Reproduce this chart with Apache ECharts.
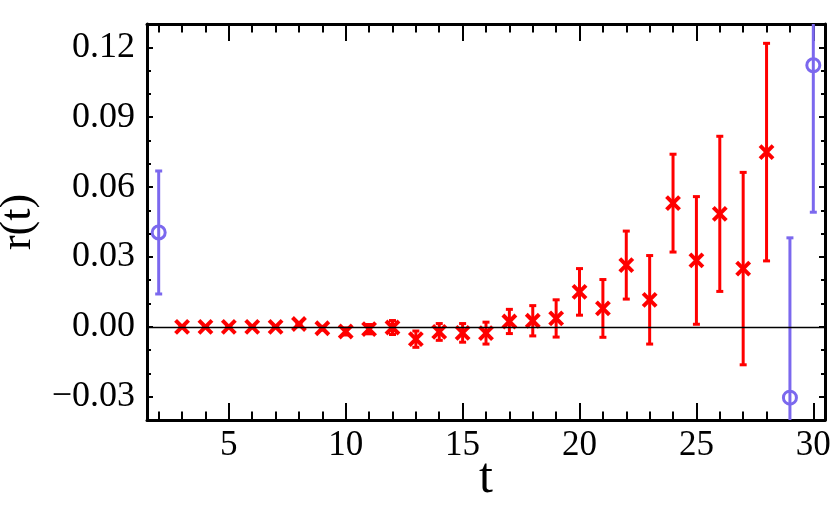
<!DOCTYPE html>
<html>
<head>
<meta charset="utf-8">
<script src="https://cdn.jsdelivr.net/npm/echarts@6/dist/echarts.min.js"></script>
<style>
  html, body { margin: 0; padding: 0; background: #fff; }
  #chart { width: 830px; height: 506px; }
</style>
</head>
<body>
<div id="chart"></div>
<script>
// red crosses: t, r(t), error
var tRed = [3, 4, 5, 6, 7, 8, 9, 10, 11, 12, 13, 14, 15, 16, 17, 18, 19, 20, 21, 22, 23, 24, 25, 26, 27, 28]
var rRed = [0.0, 0.0, 0.0, 0.0, 0.0, 0.0012, -0.0006, -0.002, -0.001, -0.0003, -0.0053, -0.0022, -0.0026, -0.0027,
  0.0023, 0.0026, 0.0036, 0.0150, 0.0079, 0.0265, 0.0116, 0.0531, 0.0285, 0.0485, 0.0250, 0.0750]
var eRed = [0.0004, 0.0004, 0.0004, 0.0004, 0.0004, 0.0005, 0.0008, 0.0015, 0.002, 0.003, 0.0035, 0.0036, 0.004, 0.0047,
  0.0052, 0.0065, 0.008, 0.010, 0.0124, 0.0146, 0.019, 0.021, 0.0274, 0.0333, 0.0413, 0.0467]
// blue circles
var tBlue = [2, 29, 30]
var rBlue = [0.0405, -0.0304, 0.1123]
var eBlue = [0.0264, 0.0686, 0.0631]

var xMajor = [5, 10, 15, 20, 25, 30]
var xMinor = [2, 3, 4, 6, 7, 8, 9, 11, 12, 13, 14, 16, 17, 18, 19, 21, 22, 23, 24, 26, 27, 28, 29]
var yMajor = [-0.03, 0, 0.03, 0.06, 0.09, 0.12]
var yMinor = [-0.04, -0.02, -0.01, 0.01, 0.02, 0.04, 0.05, 0.07, 0.08, 0.10, 0.11, 0.13]

var RED = '#ff0000'
var BLUE = '#7b68ee'
var FONT = '"Liberation Serif", "DejaVu Serif", serif'

function zip (a, b, c) {
  return a.map(function (v, i) { return [v, b[i], c[i]] })
}

// error bar with caps
function errorBar (color) {
  return function (params, api) {
    var x = api.value(0)
    var y = api.value(1)
    var e = api.value(2)
    var top = api.coord([x, y + e])
    var bot = api.coord([x, y - e])
    var st = { stroke: color, lineWidth: 3 }
    return {
      type: 'group',
      children: [
        { type: 'line', shape: { x1: top[0], y1: top[1], x2: bot[0], y2: bot[1] }, style: st },
        { type: 'line', shape: { x1: top[0] - 3.5, y1: top[1], x2: top[0] + 3.5, y2: top[1] }, style: st },
        { type: 'line', shape: { x1: bot[0] - 3.5, y1: bot[1], x2: bot[0] + 3.5, y2: bot[1] }, style: st }
      ]
    }
  }
}

// x shaped marker
function crossMark (params, api) {
  var p = api.coord([api.value(0), api.value(1)])
  var h = 6.5
  var st = { stroke: RED, lineWidth: 4 }
  return {
    type: 'group',
    children: [
      { type: 'line', shape: { x1: p[0] - h, y1: p[1] - h, x2: p[0] + h, y2: p[1] + h }, style: st },
      { type: 'line', shape: { x1: p[0] - h, y1: p[1] + h, x2: p[0] + h, y2: p[1] - h }, style: st }
    ]
  }
}

var gridBox = { left: 147, right: 5, top: 24, bottom: 86, containLabel: false, outerBoundsMode: 'none' }
var lineStyle = { color: '#000', width: 3 }

function xAxisOf (grid, pos, ticks, len, labels) {
  return {
    type: 'value', gridIndex: grid, position: pos, min: 1.5, max: 30.5,
    axisLine: { show: grid === 0, onZero: false, lineStyle: lineStyle },
    axisTick: { show: true, inside: true, length: len, customValues: ticks, lineStyle: { color: '#000', width: 2 } },
    axisLabel: labels ? { show: true, customValues: xMajor, margin: 8, color: '#000', fontSize: 35, fontFamily: FONT } : { show: false },
    splitLine: { show: false }
  }
}

function yAxisOf (grid, pos, ticks, len, labels) {
  return {
    type: 'value', gridIndex: grid, position: pos, min: -0.04, max: 0.13,
    axisLine: { show: grid === 0, onZero: false, lineStyle: lineStyle },
    axisTick: { show: true, inside: true, length: len, customValues: ticks, lineStyle: { color: '#000', width: 2 } },
    axisLabel: labels ? {
      show: true, customValues: yMajor, margin: 12, color: '#000', fontSize: 36, fontFamily: FONT,
      formatter: function (v) { return (v < 0 ? '\u2212' : '') + Math.abs(v).toFixed(2) }
    } : { show: false },
    splitLine: { show: false }
  }
}

var xs = [
  xAxisOf(0, 'bottom', xMajor, 17, true),
  xAxisOf(0, 'top', xMajor, 17, false),
  xAxisOf(1, 'bottom', xMinor, 8.5, false),
  xAxisOf(1, 'top', xMinor, 8.5, false)
]
xs[0].name = 't'
xs[0].nameLocation = 'middle'
xs[0].nameGap = 34
xs[0].nameMoveOverlap = false
xs[0].nameTextStyle = { color: '#000', fontSize: 50, fontFamily: FONT }

var ys = [
  yAxisOf(0, 'left', yMajor, 6, true),
  yAxisOf(0, 'right', yMajor, 6, false),
  yAxisOf(1, 'left', yMinor, 4, false),
  yAxisOf(1, 'right', yMinor, 4, false)
]
ys[0].name = 'r(t)'
ys[0].nameLocation = 'middle'
ys[0].nameGap = 106
ys[0].nameTextStyle = { color: '#000', fontSize: 44, fontFamily: FONT }

var chart = echarts.init(document.getElementById('chart'))
chart.setOption({
  backgroundColor: '#fff',
  animation: false,
  grid: [gridBox, gridBox],
  xAxis: xs,
  yAxis: ys,
  series: [
    {
      type: 'line', xAxisIndex: 0, yAxisIndex: 0, data: [], silent: true,
      markLine: {
        silent: true, symbol: 'none', label: { show: false },
        lineStyle: { color: '#000', width: 1.3, type: 'solid' },
        data: [{ yAxis: 0 }]
      }
    },
    { type: 'custom', xAxisIndex: 0, yAxisIndex: 0, clip: true, renderItem: errorBar(RED), data: zip(tRed, rRed, eRed) },
    { type: 'custom', xAxisIndex: 0, yAxisIndex: 0, clip: true, renderItem: crossMark, data: zip(tRed, rRed, eRed) },
    { type: 'custom', xAxisIndex: 0, yAxisIndex: 0, clip: true, renderItem: errorBar(BLUE), data: zip(tBlue, rBlue, eBlue) },
    {
      type: 'scatter', xAxisIndex: 0, yAxisIndex: 0, symbol: 'circle', symbolSize: 13,
      itemStyle: { color: 'rgba(0,0,0,0)', borderColor: BLUE, borderWidth: 3, opacity: 1 },
      data: zip(tBlue, rBlue, eBlue).map(function (d) { return [d[0], d[1]] })
    }
  ]
})
</script>
</body>
</html>
